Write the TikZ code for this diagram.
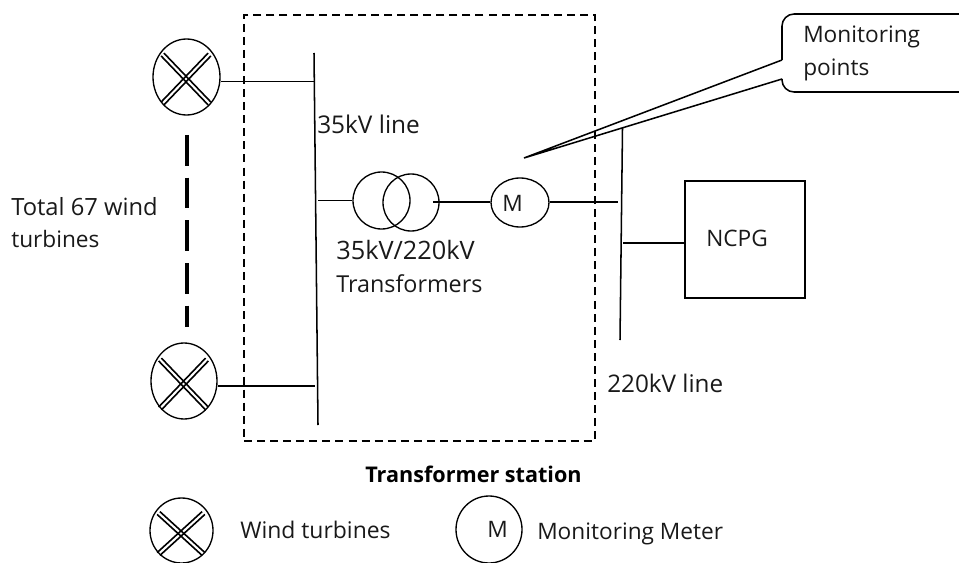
\documentclass[tikz,border=0pt]{standalone}
\usepackage{fontspec}
\setmainfont{Open Sans}
\usetikzlibrary{shapes.geometric,calc}
\newcommand{\fsz}[1]{\fontsize{#1pt}{20pt}\selectfont}
\tikzset{
  x=0.75pt,y=-0.75pt,
  ln/.style={draw=black,line width=1.15pt},
  circ/.style={ellipse,draw=black,line width=1pt,inner sep=0pt,minimum width=#1},
  lbl/.style={anchor=base west,inner sep=0pt,font=\fsz{17},text=black!90},
  xbar/.style={draw=black,line width=1.2pt},
}
\newcommand{\turbine}[8]{% name, x, y, width, height, cross centre dy, half width, half height
  \node[circ=#4*0.75pt,minimum height=#5*0.75pt] (#1) at (#2,#3) {};
  \coordinate (#1c) at (#2-0.5,#3+#6);
  \foreach \sx/\sy in {1.4/-1.4,-1.4/1.4}{
    \draw[xbar] ($(#1c)+(-#7+\sx,-#8+\sy)$) -- ($(#1c)+(#7+\sx,#8+\sy)$);
    \draw[xbar] ($(#1c)+(#7+\sx,-#8-\sy)$) -- ($(#1c)+(-#7+\sx,#8-\sy)$);
  }
}
\begin{document}
\begin{tikzpicture}
\useasboundingbox (0,0) rectangle (959,563);
% station
\node[draw=black,line width=.85pt,dash pattern=on 6pt off 3.8pt,minimum width=351*0.75pt,minimum height=426*0.75pt,inner sep=0pt] (station) at (419.5,228) {};
% turbines
\turbine{t1}{186.5}{77}{67}{76}{2}{23.5}{24.5}
\turbine{t2}{184}{381}{66}{76}{3}{23.5}{24.5}
\turbine{t3}{181.5}{530.5}{63}{65}{3}{22.5}{20.5}
% coordinates
\coordinate (b1a) at (314,53);
\coordinate (b1b) at (318,425);
\coordinate (b1t) at (314.5,81.5);
\coordinate (b1m) at (318,200.5);
\coordinate (b1l) at (314.5,386);
\coordinate (b2a) at (622.5,128);
\coordinate (b2b) at (620,340);
\coordinate (b2m) at (618,202);
\coordinate (b2r) at (623,243);
\coordinate (b3) at (433,202);
\draw[ln] (b1a) -- (b1b);
\draw[ln] (b2a) -- (b2b);
\draw[line width=2.7pt,dash pattern=on 23pt off 9pt] (187,135) -- (187,327);
\draw[ln] (t1.east |- b1t) -- (b1t);
\draw[ln] (t2.east |- b1l) -- (b1l);
% transformer and meter
\node[circ=57*0.75pt,minimum height=57*0.75pt] (tr1) at (381.5,200.5) {};
\node[circ=56*0.75pt,minimum height=57*0.75pt] (tr2) at (411,202.5) {};
\node[circ=58*0.75pt,minimum height=49*0.75pt] (m) at (520,202.5) {};
\node[lbl] (mt) at (502,211) {M};
\draw[ln] (b1m) -- (tr1.west);
\draw[ln] (b3) -- (b3 -| m.west);
\draw[ln] (b2m -| m.east) -- (b2m);
% NCPG
\node[draw=black,line width=1pt,minimum width=120*0.75pt,minimum height=117*0.75pt,inner sep=0pt] (ncpg) at (745,239.5) {};
\draw[ln] (b2r) -- (ncpg.west |- b2r);
% callout
\coordinate (tip) at (524,158);
\coordinate (cr) at (959,14);
\coordinate (crb) at (959,92);
\draw[ln,rounded corners=9pt] (cr) -- (782,14) -- (782,60);
\draw[ln,rounded corners=9pt] (782,79) -- (782,92) -- (crb);
\draw[ln] (782,60) -- (tip) -- (782,79);
% texts
\node[lbl] (l1) at (803,43) {Monitoring};
\node[lbl] (l2) at (803,76) {points};
\node[lbl,font=\fsz{18.3}] (l3) at (317,133) {35kV line};
\node[lbl,font=\fsz{17.8}] (l4) at (11,215) {Total 67 wind};
\node[lbl] (l5) at (11,247) {turbines};
\node[lbl,font=\fsz{19}] (l6) at (336,259) {35kV/220kV};
\node[lbl,font=\fsz{17.5}] (l7) at (336,292) {Transformers};
\node[lbl,font=\fsz{18.2}] (l8) at (607,392) {220kV line};
\node[lbl] (l9) at (706,246) {NCPG};
\node[lbl,font=\fsz{16.2}\bfseries,text=black] (l10) at (365,482) {Transformer station};
\node[lbl,font=\fsz{17.2}] (l11) at (240,538) {Wind turbines};
\node[circ=66*0.75pt,minimum height=67*0.75pt] (m2) at (489,529.5) {};
\node[lbl] (m2t) at (487,537) {M};
\node[lbl] (l12) at (537,539) {Monitoring Meter};
\end{tikzpicture}
\end{document}
